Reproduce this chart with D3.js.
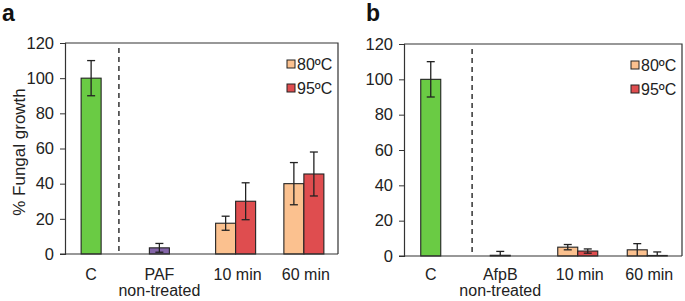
<!DOCTYPE html>
<html>
<head>
<meta charset="utf-8">
<script src="https://cdnjs.cloudflare.com/ajax/libs/d3/7.8.5/d3.min.js"></script>
<style>
  body { margin: 0; background: #fff; }
  svg { font-family: "Liberation Sans", Arial, sans-serif; }
</style>
</head>
<body>
<div id="chart"></div>
<script>
// categories per panel
const categoriesA = ["C", "PAF", "10 min", "60 min"];
const categoriesB = ["C", "AfpB", "10 min", "60 min"];
const secondLine = ["", "non-treated", "", ""];

// single bars (control + non-treated peptide)
const singleA = [100, 3.5];
const singleErrA = [10, 2.5];
const singleB = [100, 0.4];
const singleErrB = [10, 2.2];

// heat treated series: 80ºC and 95ºC for 10 min / 60 min
const heat80A = [17.5, 40];
const heat80ErrA = [4, 12];
const heat95A = [30, 45.5];
const heat95ErrA = [10.5, 12.5];
const heat80B = [5, 3.5];
const heat80ErrB = [1.5, 3.5];
const heat95B = [2.8, 0.3];
const heat95ErrB = [1.2, 2];

const yTicks = [0, 20, 40, 60, 80, 100, 120];
const legendLabels = ["80ºC", "95ºC"];

const green = "#6acb44", purple = "#8465a8", cyan = "#4bb4d6";
const c80 = "#fbc18f", c95 = "#df4d4f";

const svg = d3.select("#chart").append("svg")
    .attr("width", 685)
    .attr("height", 301);

function drawPanel(p) {
    let x = d3.scaleBand().domain(p.cats).range([p.left, p.right]);
    let y = d3.scaleLinear().domain([0, 120]).range([p.bottom, p.top]);
    let bw = 20;
    let g = svg.append("g");

    // frame (top + right)
    g.append("path")
        .attr("d", "M" + p.left + "," + p.top + "H" + p.right + "V" + p.bottom)
        .attr("fill", "none").attr("stroke", "#333").attr("stroke-width", 1.2);

    // divider
    let dx = p.left + x.bandwidth() * p.divider;
    g.append("line")
        .attr("x1", dx).attr("x2", dx)
        .attr("y1", p.top + 5).attr("y2", p.bottom)
        .attr("stroke", "#333").attr("stroke-width", 1.5)
        .attr("stroke-dasharray", "5,4");

    // bars
    let bars = [];
    p.single.forEach(function (v, i) {
        let cx = x(p.cats[i]) + x.bandwidth() / 2 - 8;
        bars.push({x: cx - bw / 2, v: v, e: p.singleErr[i], c: p.singleColors[i]});
    });
    [p.h80, p.h95].forEach(function (s, k) {
        let errs = k === 0 ? p.h80Err : p.h95Err;
        s.forEach(function (v, i) {
            let cx = x(p.cats[i + 2]) + x.bandwidth() / 2;
            bars.push({x: cx - bw + k * bw, v: v, e: errs[i], c: k === 0 ? c80 : c95});
        });
    });

    g.selectAll("rect.bar").data(bars).enter().append("rect")
        .attr("class", "bar")
        .attr("x", d => d.x)
        .attr("y", d => y(d.v))
        .attr("width", bw)
        .attr("height", d => y(0) - y(d.v))
        .attr("fill", d => d.c)
        .attr("stroke", "#222").attr("stroke-width", 1.1);

    // error bars
    let eb = g.selectAll("g.err").data(bars).enter().append("g")
        .attr("stroke", "#222").attr("stroke-width", 1.3);
    eb.append("line")
        .attr("x1", d => d.x + bw / 2).attr("x2", d => d.x + bw / 2)
        .attr("y1", d => y(Math.max(0, d.v - d.e))).attr("y2", d => y(d.v + d.e));
    eb.append("line")
        .attr("x1", d => d.x + bw / 2 - 4).attr("x2", d => d.x + bw / 2 + 4)
        .attr("y1", d => y(d.v + d.e)).attr("y2", d => y(d.v + d.e));
    eb.filter(d => d.v - d.e > 0).append("line")
        .attr("x1", d => d.x + bw / 2 - 4).attr("x2", d => d.x + bw / 2 + 4)
        .attr("y1", d => y(d.v - d.e)).attr("y2", d => y(d.v - d.e));

    // y axis
    let ya = g.append("g")
        .attr("transform", "translate(" + p.left + ",0)")
        .call(d3.axisLeft(y).tickValues(yTicks).tickSize(5).tickPadding(6));
    ya.select(".domain").attr("stroke", "#333").attr("stroke-width", 1.2);
    ya.selectAll(".tick line").attr("stroke", "#333");
    ya.selectAll("text").attr("font-size", 16.5).attr("fill", "#222")
        .attr("font-family", "Liberation Sans, Arial, sans-serif");

    // baseline
    g.append("line")
        .attr("x1", p.left - 5).attr("x2", p.right)
        .attr("y1", y(0)).attr("y2", y(0))
        .attr("stroke", "#333").attr("stroke-width", 1.2);

    // x labels
    p.cats.forEach(function (c, i) {
        let cx = x(c) + x.bandwidth() / 2 + (i < 2 ? -8 : 2);
        g.append("text")
            .attr("x", cx).attr("y", 280)
            .attr("text-anchor", "middle")
            .attr("font-size", 16).attr("fill", "#222")
            .text(c);
        if (secondLine[i]) {
            g.append("text")
                .attr("x", cx).attr("y", 296)
                .attr("text-anchor", "middle")
                .attr("font-size", 16).attr("fill", "#222")
                .text(secondLine[i]);
        }
    });

    // legend
    legendLabels.forEach(function (l, i) {
        let ly = p.top + 21 + i * 24;
        g.append("rect")
            .attr("x", p.right - 51).attr("y", ly - 4)
            .attr("width", 8).attr("height", 8)
            .attr("fill", i === 0 ? c80 : c95)
            .attr("stroke", "#222").attr("stroke-width", 1);
        g.append("text")
            .attr("x", p.right - 41).attr("y", ly + 6)
            .attr("font-size", 16).attr("fill", "#222")
            .text(l);
    });

    // panel letter
    g.append("text")
        .attr("x", p.letterX).attr("y", 21)
        .attr("font-size", 23).attr("font-weight", "bold").attr("fill", "#111")
        .text(p.letter);
}

drawPanel({
    cats: categoriesA, left: 65, right: 338, top: 43, bottom: 254,
    single: singleA, singleErr: singleErrA, singleColors: [green, purple],
    h80: heat80A, h80Err: heat80ErrA, h95: heat95A, h95Err: heat95ErrA,
    divider: 0.79, letter: "a", letterX: 2
});

drawPanel({
    cats: categoriesB, left: 404, right: 682, top: 44, bottom: 256,
    single: singleB, singleErr: singleErrB, singleColors: [green, cyan],
    h80: heat80B, h80Err: heat80ErrB, h95: heat95B, h95Err: heat95ErrB,
    divider: 0.98, letter: "b", letterX: 366
});

// y axis title (panel a only)
svg.append("text")
    .attr("transform", "translate(25,152) rotate(-90)")
    .attr("text-anchor", "middle")
    .attr("font-size", 17).attr("fill", "#222")
    .text("% Fungal growth");
</script>
</body>
</html>
